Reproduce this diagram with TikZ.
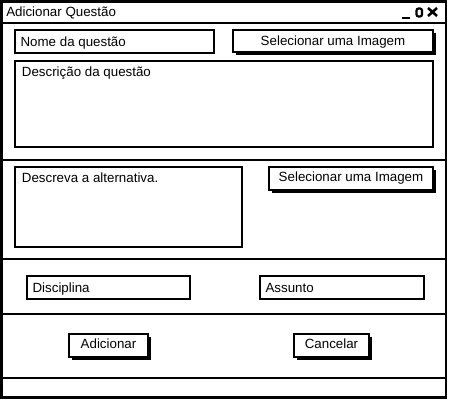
\documentclass[tikz,border=0pt]{standalone}
\usepackage{fontspec}
\setmainfont{Liberation Sans}
\usetikzlibrary{fit}
\usetikzlibrary{shadows}

\begin{document}
\begin{tikzpicture}[x=0.75pt, y=-0.75pt,
	window/.style={draw, line width=1.8pt, inner sep=0pt},
	sep/.style={line width=1.5pt},
	field/.style={draw, line width=2pt, inner sep=0pt, fill=white},
	button/.style={draw, line width=1.4pt, inner sep=0pt, fill=white,
		general shadow={fill=black, shadow xshift=2.2pt, shadow yshift=-2.2pt}},
	txt/.style={font=\fontsize{10}{12}\selectfont, inner sep=0pt,
		text height=1.6ex, text depth=.3ex}]
	\useasboundingbox (0,0) rectangle (450,400);

	% janela
	\node[window, fit={(1.5,1.5) (446,397.5)}] (win) {};
	\node[txt, anchor=west] (title) at (6,12) {Adicionar Questão};
	\draw[line width=2.2pt] (402,18) -- (410,18);
	\draw[line width=1.6pt, rounded corners=1.5pt] (416.5,8.5) rectangle (422,16.5);
	\draw[line width=1.9pt] (428,8) -- (437,16) (428,16) -- (437,8);
	\foreach \y in {23, 160, 259, 314, 378}
	\draw[sep] (win.west |- 0,\y) -- (win.east |- 0,\y);

	% questao
	\node[field, fit={(15,30) (214,53)}] (nome) {};
	\node[txt, anchor=west] (nometxt) at ([xshift=5pt]nome.west) {Nome da questão};
	\node[button, fit={(233,30) (433,52)}] (imgquestao) {};
	\node[txt] (imgquestaotxt) at (imgquestao.center) {Selecionar uma Imagem};
	\node[field, fit={(15,61) (433,147)}] (desc) {};
	\node[txt, anchor=north west] (desctxt) at ([xshift=6pt, yshift=-4pt]desc.north west) {Descrição da questão};

	% alternativa
	\node[field, fit={(15,167) (242,247)}] (alt) {};
	\node[txt, anchor=north west] (alttxt) at ([xshift=6pt, yshift=-4pt]alt.north west) {Descreva a alternativa.};
	\node[button, fit={(269,167) (433,190)}] (imgalt) {};
	\node[txt] (imgalttxt) at ([yshift=1pt]imgalt.center) {Selecionar uma Imagem};

	% disciplina e assunto
	\node[field, fit={(27,276) (190,299)}] (disc) {};
	\node[txt, anchor=west] (disctxt) at ([xshift=5pt]disc.west) {Disciplina};
	\node[field, fit={(260,276) (424,299)}] (assunto) {};
	\node[txt, anchor=west] (assuntotxt) at ([xshift=5pt]assunto.west) {Assunto};

	% botoes
	\node[button, fit={(69,334) (148,357)}] (adicionar) {};
	\node[txt] (adicionartxt) at ([yshift=1pt]adicionar.center) {Adicionar};
	\node[button, fit={(294,334) (369,357)}] (cancelar) {};
	\node[txt] (cancelartxt) at ([yshift=1pt]cancelar.center) {Cancelar};
\end{tikzpicture}
\end{document}
